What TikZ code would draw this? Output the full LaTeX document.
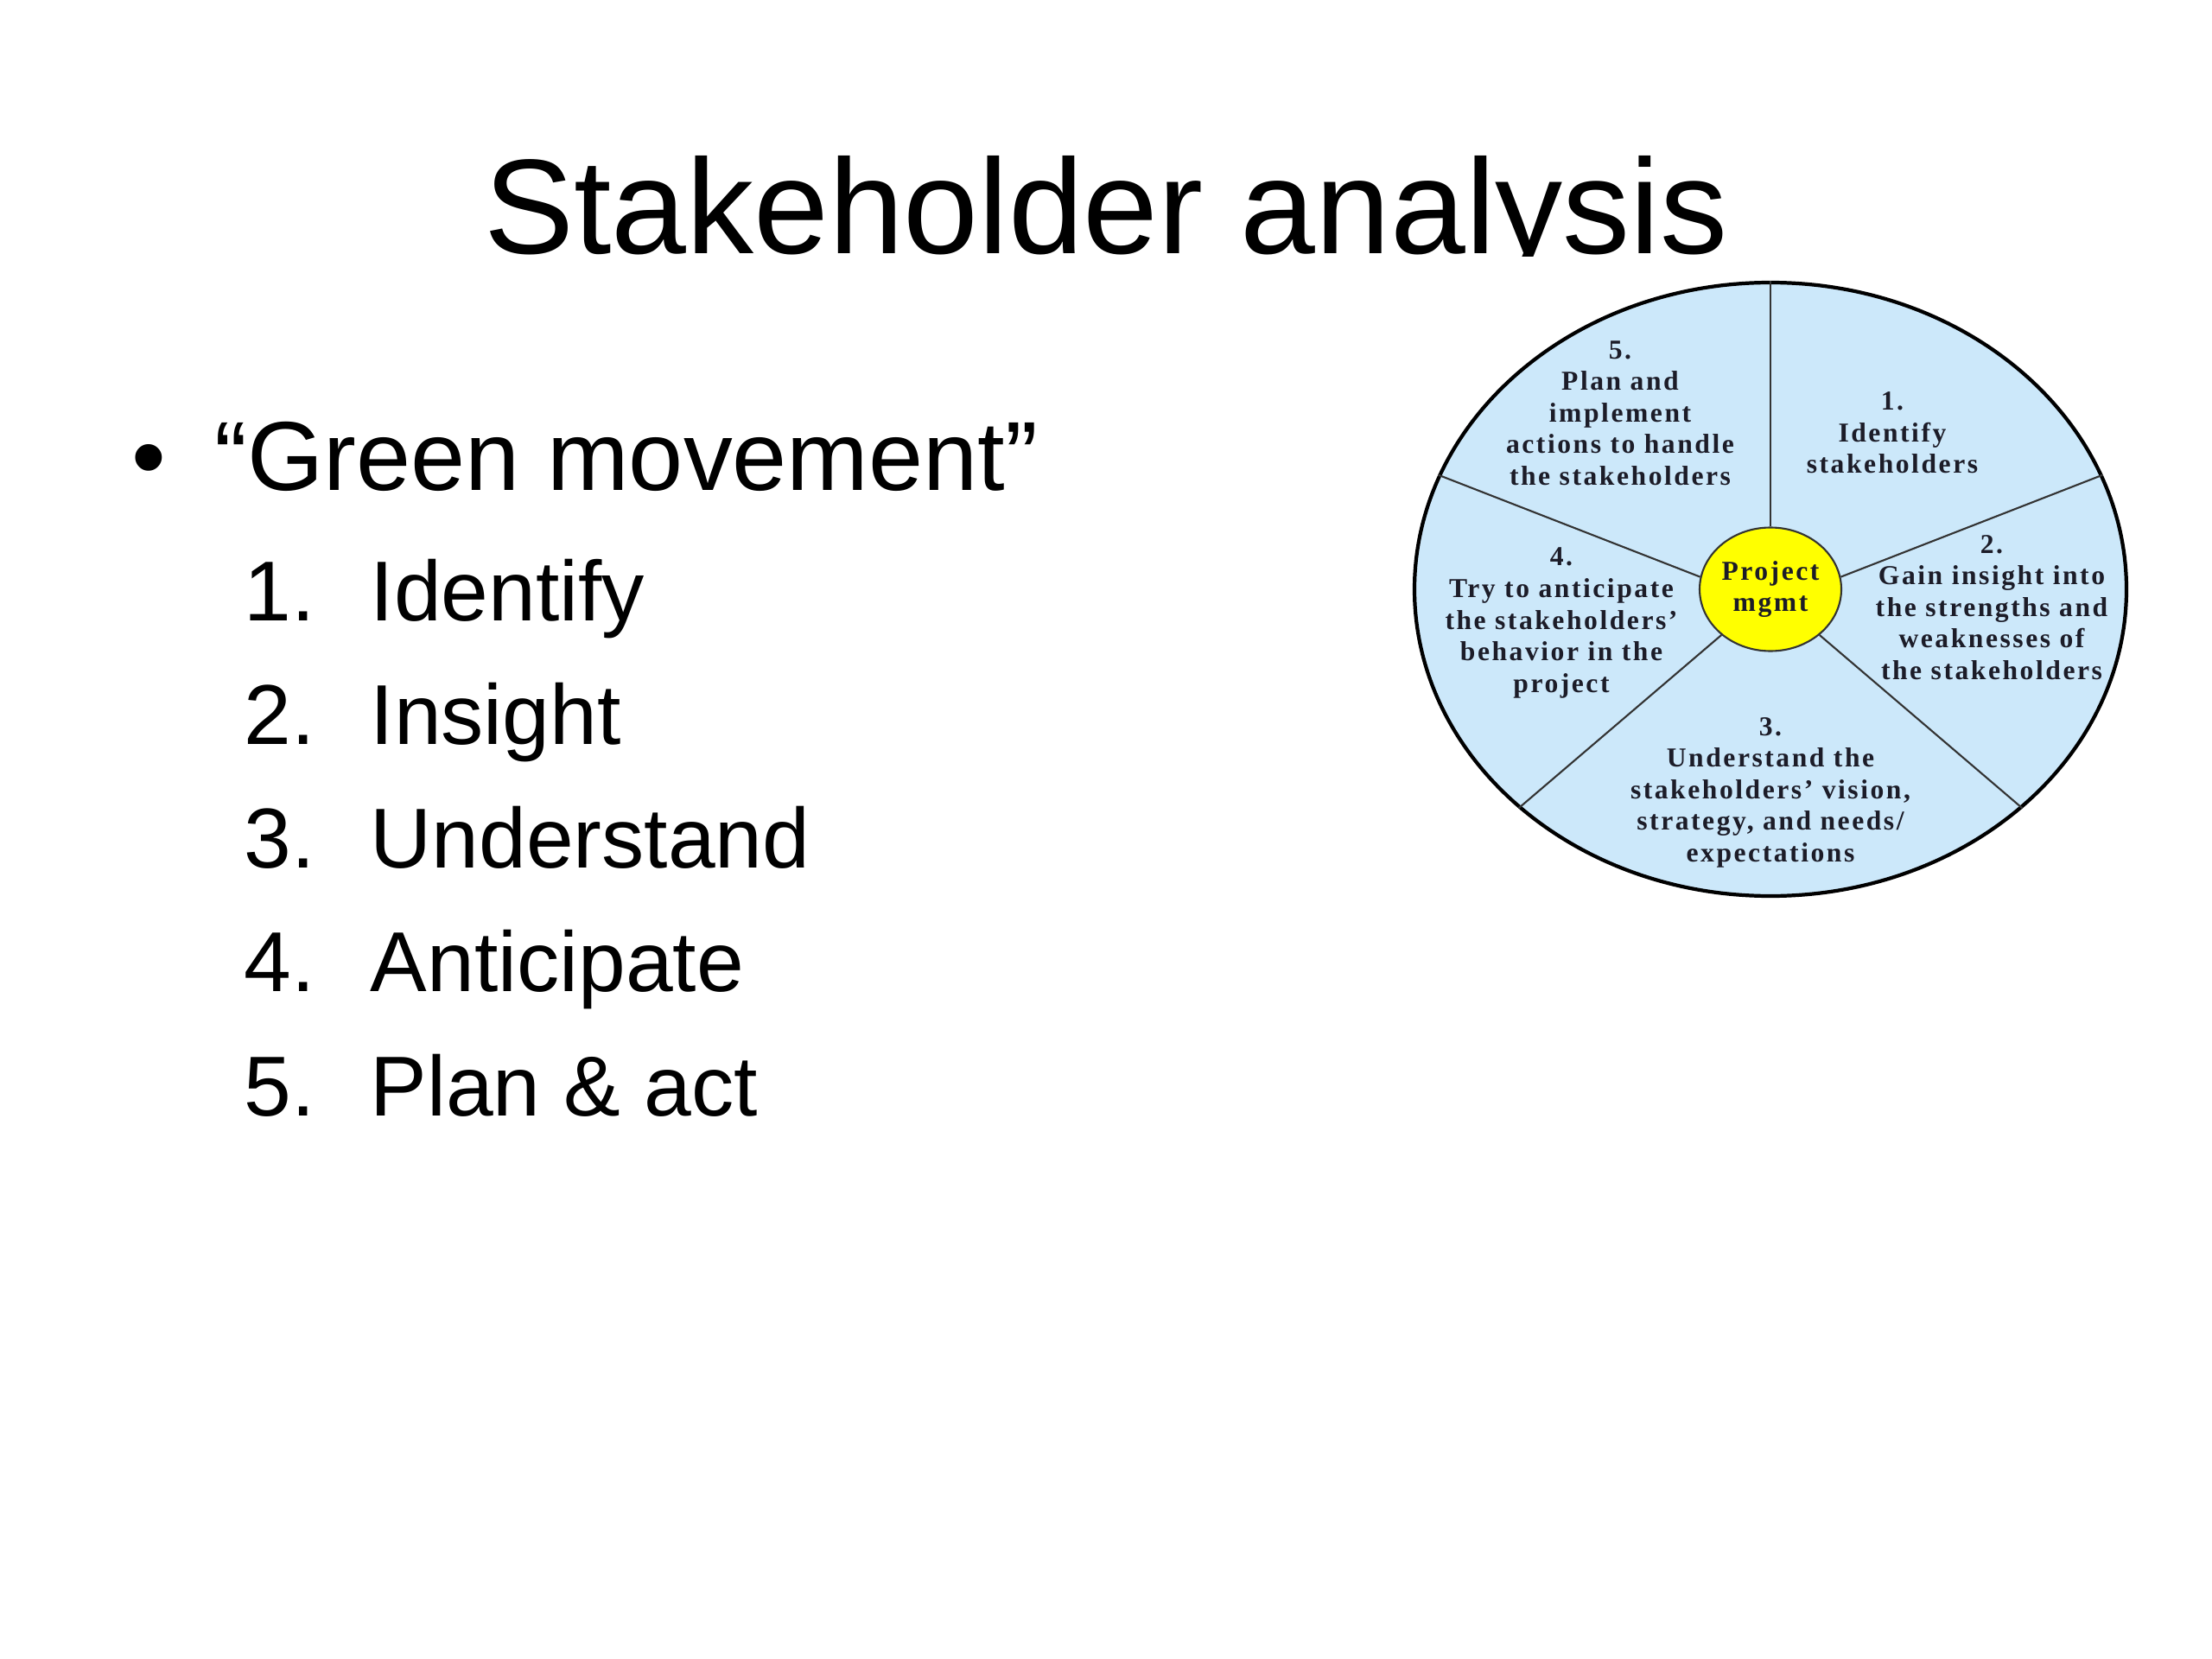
\documentclass[tikz,border=0pt]{standalone}
\usepackage{fontspec}
\setmainfont{Liberation Sans}
\newfontfamily\wheelfont{Liberation Serif}[LetterSpace=8]
\usetikzlibrary{shapes.geometric,positioning}
\definecolor{wheelblue}{RGB}{204,232,250}
\definecolor{hubyellow}{RGB}{255,255,0}
\definecolor{inkdark}{RGB}{28,28,40}

\begin{document}
\begin{tikzpicture}[
    slide text/.style={inner sep=0pt, anchor=base west, font=\fontsize{28}{34}\selectfont},
    sector/.style={align=center, inner sep=0pt, text=inkdark,
        font=\wheelfont\bfseries\fontsize{9}{10.4}\selectfont},
    spoke/.style={draw=black!80, line width=0.6pt}]
    \useasboundingbox (0,0) rectangle (25.6,-19.2);

    % title, cut just below the baseline as on the slide
    \begin{scope}
    \clip (0,0) rectangle (25.6,-2.965);
    \node[inner sep=0pt, anchor=base, font=\fontsize{44.4}{53}\selectfont] (title) at (12.8,-2.94) {Stakeholder analysis};
    \end{scope}

    % bullet list
    \node[slide text, anchor=base, font=\fontsize{32.3}{38}\selectfont] (bullet) at (1.72,-5.68) {•};
    \node[slide text, font=\fontsize{32.3}{38}\selectfont] (green) at (2.48,-5.68) {“Green movement”};
    \foreach \n/\txt in {1/Identify, 2/Insight, 3/Understand, 4/Anticipate, 5/Plan \& act}
      {
      \node[slide text] (num\n) at (2.82,{-7.18-1.433*(\n-1)}) {\n.};
      \node[slide text] (item\n) at (4.28,{-7.18-1.433*(\n-1)}) {\txt};
      }

    % the wheel
    \node[ellipse, draw, line width=1.2pt, fill=wheelblue, minimum width=8.24cm, minimum height=7.1cm] (wheel) at (20.49,-6.82) {};
    \node[ellipse, draw=black!80, line width=0.6pt, fill=hubyellow, minimum width=1.64cm, minimum height=1.43cm,
        sector, inner sep=0pt] (hub) at (wheel.center) {Project\\mgmt};
    \foreach \h/\w in {90/90, 10/19, -43/-41.5, 223/221, 170/161}
      \draw[spoke] (hub.\h) -- (wheel.\w);

    \node[sector] (stage1) at (21.90,-5.01) {1.\\Identify\\stakeholders};
    \node[sector] (stage2) at (23.05,-7.03) {2.\\Gain insight into\\the strengths and\\weaknesses of\\the stakeholders};
    \node[sector] (stage3) at (20.49,-9.17) {3.\\Understand the\\stakeholders’ vision,\\strategy, and needs/\\expectations};
    \node[sector] (stage4) at (18.07,-7.21) {4.\\Try to anticipate\\the stakeholders’\\behavior in the\\project};
    \node[sector] (stage5) at (18.75,-4.78) {5.\\Plan and\\implement\\actions to handle\\the stakeholders};
\end{tikzpicture}
\end{document}
